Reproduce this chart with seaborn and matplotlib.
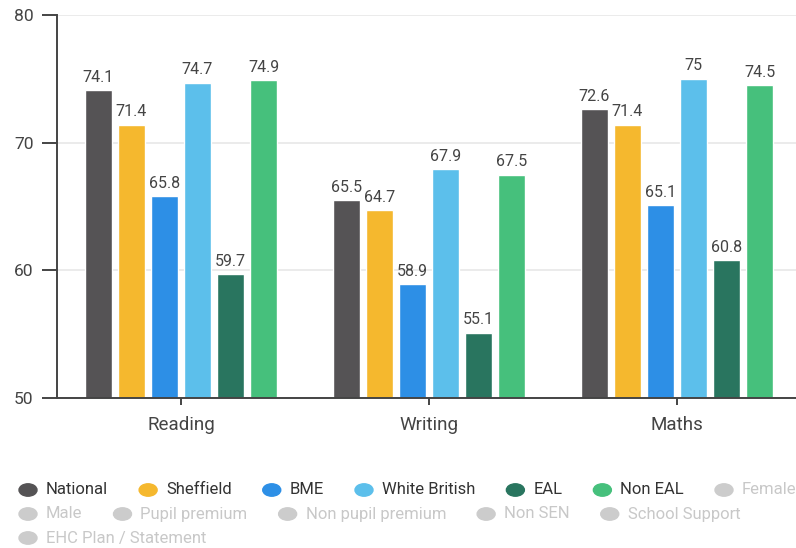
import matplotlib
matplotlib.use("Agg")
import matplotlib.pyplot as plt
from matplotlib.patches import Circle
import seaborn as sns
import pandas as pd

# Attainment by pupil group, per subject
subjects = ["Reading", "Writing", "Maths"]
groups = ["National", "Sheffield", "BME", "White British", "EAL", "Non EAL"]
national = [74.1, 65.5, 72.6]
sheffield = [71.4, 64.7, 71.4]
bme = [65.8, 58.9, 65.1]
white_british = [74.7, 67.9, 75.0]
eal = [59.7, 55.1, 60.8]
non_eal = [74.9, 67.5, 74.5]
hidden_groups = ["Female", "Male", "Pupil premium", "Non pupil premium",
                 "Non SEN", "School Support", "EHC Plan / Statement"]
y_ticks = [50, 60, 70, 80]

colors = ["#555355", "#F5B82E", "#2D8FE6", "#5CBFEB", "#29755F", "#46C07C"]
hidden_color = "#CCCCCC"

series = [national, sheffield, bme, white_british, eal, non_eal]
rows = []
for g, vals in zip(groups, series):
    for s, v in zip(subjects, vals):
        rows.append({"subject": s, "group": g, "score": v})
df = pd.DataFrame(rows)

sns.set_theme(style="white")
plt.rcParams["font.family"] = ["Roboto", "DejaVu Sans"]

W, H = 796, 548
fig = plt.figure(figsize=(W / 100, H / 100), dpi=100)
ax = fig.add_axes([57 / W, 150 / H, (796 - 57) / W, (398 - 15) / H])

sns.barplot(data=df, x="subject", y="score", hue="group", order=subjects,
            hue_order=groups, palette=colors, width=0.8, gap=0.18,
            saturation=1, legend=False, ax=ax)

for cont in ax.containers:
    ax.bar_label(cont, labels=[f"{b.get_height():g}" for b in cont],
                 padding=4, fontsize=11.5, color="#444444")

ax.set_ylim(50, 80)
ax.set_xlim(-0.5, (796 - 57) / 248 - 0.5)
ax.set_yticks(y_ticks)
ax.set_xlabel("")
ax.set_ylabel("")
ax.yaxis.grid(True, color="#E8E8E8", linewidth=1.2)
ax.set_axisbelow(True)
for side in ("top", "right"):
    ax.spines[side].set_visible(False)
for side in ("left", "bottom"):
    ax.spines[side].set_color("#444444")
    ax.spines[side].set_linewidth(1.4)
ax.tick_params(axis="y", length=11, width=1.4, color="#444444",
               labelsize=12.5, labelcolor="#444444", pad=6, left=True)
ax.tick_params(axis="x", length=5, width=1.4, color="#444444",
               labelsize=13.5, labelcolor="#444444", pad=8, bottom=True)

# Flowing legend with round markers; hidden series drawn in grey
fig.canvas.draw()
renderer = fig.canvas.get_renderer()
entries = [(g, c, "#333333") for g, c in zip(groups, colors)] + \
          [(g, hidden_color, "#C8C8C8") for g in hidden_groups]
x0, x, y = 19, 19, 490
r, txt_gap, item_gap, row_h = 9, 9, 31, 24
for label, mc, tc in entries:
    t = fig.text(0, 0, label, fontsize=12, color=tc, va="center", ha="left")
    w = t.get_window_extent(renderer).width
    if x + 2 * r + txt_gap + w > W + 6 and x > x0:
        x = x0
        y += row_h
    fig.patches.append(Circle(((x + r) / W, 1 - y / H), r / W,
                              transform=fig.transFigure, color=mc,
                              figure=fig))
    t.set_position(((x + 2 * r + txt_gap) / W, 1 - y / H))
    x += 2 * r + txt_gap + w + item_gap

fig.savefig("out.png", dpi=100)
